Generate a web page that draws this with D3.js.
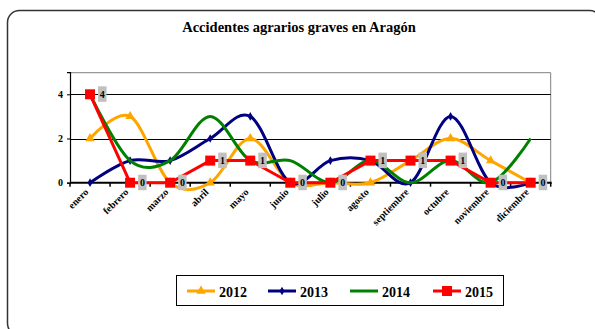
<!DOCTYPE html>
<html>
<head>
<meta charset="utf-8">
<script src="https://cdn.jsdelivr.net/npm/d3@7/dist/d3.min.js"></script>
<style>
  html, body { margin: 0; padding: 0; background: #fff; }
  svg { display: block; }
  svg text { font-family: "Liberation Serif", "DejaVu Serif", "Times New Roman", serif; }
</style>
</head>
<body>
<svg id="chart" width="595" height="329"></svg>
<script>
// Monthly serious agricultural accidents in Aragón, by year
const months = ["enero", "febrero", "marzo", "abril", "mayo", "junio", "julio",
                "agosto", "septiembre", "octubre", "noviembre", "diciembre"];
const years = ["2012", "2013", "2014", "2015"];
const values2012 = [2, 3, 0, 0, 2, 0, 0, 0, 1, 2, 1, 0];
const values2013 = [0, 1, 1, 2, 3, 0, 1, 1, 0, 3, 0, 0];
const values2014 = [4, 1, 1, 3, 1, 1, 0, 1, 0, 1, 0, 2];
const values2015 = [4, 0, 0, 1, 1, 0, 0, 1, 1, 1, 0, 0];
const yTicks = [0, 2, 4];
const title = "Accidentes agrarios graves en Aragón";

const seriesList = [
  { name: years[0], values: values2012, color: "#ffa500", marker: "triangle", smooth: true },
  { name: years[1], values: values2013, color: "#000080", marker: "diamond", smooth: true },
  { name: years[2], values: values2014, color: "#008000", marker: "none", smooth: true },
  { name: years[3], values: values2015, color: "#ff0000", marker: "square", smooth: false, labels: true }
];

const FONT = "'Liberation Serif', 'DejaVu Serif', serif";
const svg = d3.select("#chart");

// outer rounded frame
svg.append("rect")
  .attr("x", 7.5).attr("y", 10.5)
  .attr("width", 594).attr("height", 325)
  .attr("rx", 12).attr("ry", 12)
  .attr("fill", "#fff").attr("stroke", "#333").attr("stroke-width", 1.5);

// title
svg.append("text")
  .attr("x", 299).attr("y", 32)
  .attr("text-anchor", "middle")
  .attr("font-family", FONT)
  .attr("font-size", 14.5).attr("font-weight", "bold")
  .text(title);

const plot = { left: 70, right: 550.7, top: 72.2, bottom: 182.7 };

const x = d3.scaleBand().domain(months).range([plot.left, plot.right]);
const y = d3.scaleLinear().domain([0, 5]).range([plot.bottom, plot.top]);
const cx = m => x(m) + x.bandwidth() / 2;

// plot border (top and right)
svg.append("path")
  .attr("d", `M${plot.left},${plot.top + 0.5}H${plot.right}V${plot.bottom}`)
  .attr("fill", "none").attr("stroke", "#808080").attr("stroke-width", 1);

// gridlines
svg.append("g")
  .selectAll("line")
  .data(yTicks.filter(t => t > 0))
  .join("line")
  .attr("x1", plot.left).attr("x2", plot.right)
  .attr("y1", d => Math.round(y(d)) + 0.5).attr("y2", d => Math.round(y(d)) + 0.5)
  .attr("stroke", "#000").attr("stroke-width", 1);

// y axis
const yAxis = svg.append("g")
  .attr("transform", `translate(${plot.left},0)`)
  .call(d3.axisLeft(y).tickValues(yTicks).tickSize(3).tickPadding(4).tickFormat(d3.format("d")));
yAxis.select(".domain").attr("stroke", "#000").attr("stroke-width", 1.2);
yAxis.selectAll("text")
  .attr("font-family", FONT)
  .attr("font-size", 10).attr("font-weight", "bold").attr("fill", "#000");

// x axis with ticks at category boundaries
const xAxisG = svg.append("g").attr("transform", `translate(0,${plot.bottom})`);
xAxisG.append("line")
  .attr("x1", plot.left).attr("x2", plot.right + 1)
  .attr("stroke", "#000").attr("stroke-width", 2);
const boundaries = months.map(m => x(m)).concat([plot.right]);
xAxisG.selectAll("line.tick")
  .data(boundaries)
  .join("line")
  .attr("class", "tick")
  .attr("x1", d => d).attr("x2", d => d)
  .attr("y1", 0).attr("y2", 4)
  .attr("stroke", "#000").attr("stroke-width", 1.5);
xAxisG.selectAll("text")
  .data(months)
  .join("text")
  .attr("transform", d => `translate(${cx(d) - 1},10) rotate(-45)`)
  .attr("text-anchor", "end")
  .attr("font-family", FONT)
  .attr("font-size", 10).attr("font-weight", "bold")
  .text(d => d);

// series lines
const smoothLine = d3.line()
  .x((d, i) => cx(months[i])).y(d => y(d))
  .curve(d3.curveCatmullRom.alpha(0));
const straightLine = d3.line()
  .x((d, i) => cx(months[i])).y(d => y(d));

function markerPath(type, size) {
  if (type === "triangle") return d3.symbol(d3.symbolTriangle, size)();
  if (type === "diamond") return d3.symbol(d3.symbolDiamond, size)();
  if (type === "square") return d3.symbol(d3.symbolSquare, size)();
  return null;
}
const markerSize = { triangle: 38, diamond: 22, square: 100 };

const seriesG = svg.append("g");
seriesList.forEach(s => {
  const g = seriesG.append("g");
  g.append("path")
    .attr("d", (s.smooth ? smoothLine : straightLine)(s.values))
    .attr("fill", "none").attr("stroke", s.color).attr("stroke-width", 3)
    .attr("stroke-linejoin", "round");
  if (s.marker !== "none") {
    g.selectAll("path.mk")
      .data(s.values)
      .join("path")
      .attr("class", "mk")
      .attr("d", markerPath(s.marker, markerSize[s.marker]))
      .attr("transform", (d, i) => `translate(${cx(months[i])},${y(d)})`)
      .attr("fill", s.color);
  }
});

// value labels for 2015
const labelled = seriesList.find(s => s.labels);
const lab = svg.append("g").selectAll("g")
  .data(labelled.values)
  .join("g")
  .attr("transform", (d, i) => `translate(${cx(months[i])},${y(d)})`);
lab.append("rect")
  .attr("x", 8).attr("y", -8).attr("width", 8.5).attr("height", 15.5)
  .attr("fill", "#c0c0c0");
lab.append("text")
  .attr("x", 12.3).attr("y", 3.5)
  .attr("text-anchor", "middle")
  .attr("font-family", FONT)
  .attr("font-size", 10).attr("font-weight", "bold")
  .text(d => d);

// legend
const legend = svg.append("g");
legend.append("rect")
  .attr("x", 176.5).attr("y", 275.5).attr("width", 327).attr("height", 30)
  .attr("fill", "#fff").attr("stroke", "#000").attr("stroke-width", 1);
const legendX = [187, 268, 350, 433];
seriesList.forEach((s, i) => {
  const lx = legendX[i], ly = 291;
  legend.append("line")
    .attr("x1", lx).attr("x2", lx + 28).attr("y1", ly).attr("y2", ly)
    .attr("stroke", s.color).attr("stroke-width", 3);
  if (s.marker !== "none") {
    legend.append("path")
      .attr("d", markerPath(s.marker, markerSize[s.marker]))
      .attr("transform", `translate(${lx + 14},${ly})`)
      .attr("fill", s.color);
  }
  legend.append("text")
    .attr("x", lx + 32).attr("y", ly + 5.5)
    .attr("font-family", FONT)
    .attr("font-size", 14).attr("font-weight", "bold")
    .text(s.name);
});
</script>
</body>
</html>
